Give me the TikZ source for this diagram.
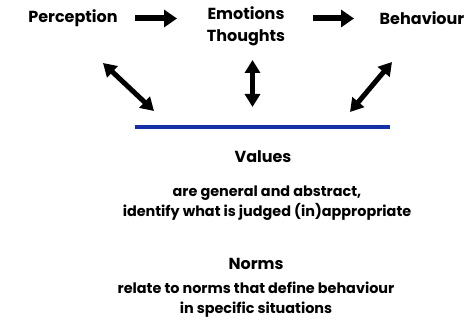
\documentclass[tikz,border=0pt]{standalone}
\usepackage{fontspec}
\setmainfont{Poppins}
\usetikzlibrary{arrows.meta}
\definecolor{lineblue}{HTML}{1430A8}
\tikzset{
  x=1pt,y=-1pt,
  head/.style={font=\bfseries\fontsize{16}{22}\selectfont, inner sep=0pt, align=center},
  desc/.style={font=\bfseries\fontsize{14.4}{20}\selectfont, inner sep=0pt, align=center},
  fat/.style={line width=6pt, -{Triangle[length=13pt,width=17pt]}},
  fatboth/.style={line width=5pt, {Triangle[length=13pt,width=15pt]}-{Triangle[length=13pt,width=15pt]}},
}
\begin{document}
\begin{tikzpicture}
\useasboundingbox (0,0) rectangle (470,320);
\node[head] (perc) at (73,18) {Perception};
\node[head] (emo) at (246,26) {Emotions\\Thoughts};
\node[head] (beh) at (422,18) {Behaviour};
\coordinate (a1s) at (135,18.5); \coordinate (a1e) at (177,18.5);
\coordinate (a2s) at (313,18.5); \coordinate (a2e) at (354,18.5);
\draw[fat] (a1s) -- (a1e);
\draw[fat] (a2s) -- (a2e);
\coordinate (l1) at (135,127); \coordinate (l2) at (390,127);
\draw[lineblue, line width=4pt] (l1) -- (l2);
\coordinate (d1a) at (103,63); \coordinate (d1b) at (154,111);
\coordinate (d2a) at (252.5,60); \coordinate (d2b) at (252.5,107);
\coordinate (d3a) at (392,62); \coordinate (d3b) at (350,112);
\draw[fatboth] (d1a) -- (d1b);
\draw[fatboth] (d2a) -- (d2b);
\draw[fatboth] (d3a) -- (d3b);
\node[head] (val) at (263,157) {Values};
\node[desc] (vdesc) at (267,203) {are general and abstract,\\identify what is judged (in)appropriate};
\node[head] (norm) at (256,264) {Norms};
\node[desc] (ndesc) at (256,300) {relate to norms that define behaviour\\in specific situations};
\end{tikzpicture}
\end{document}
